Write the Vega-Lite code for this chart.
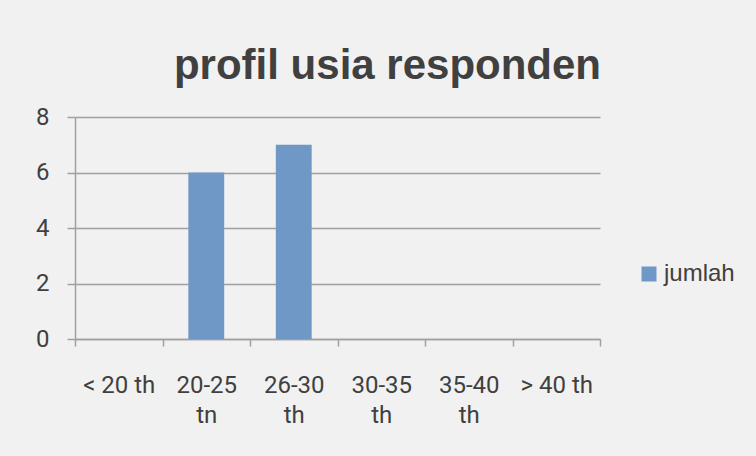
{
  "$schema": "https://vega.github.io/schema/vega-lite/v6.json",
  "width": 525,
  "height": 222,
  "autosize": "none",
  "padding": {"left": 75, "top": 117, "right": 156, "bottom": 117},
  "background": "#f1f1f1",
  "title": {
    "text": "profil usia responden",
    "font": "Liberation Sans",
    "fontWeight": "bold",
    "fontSize": 42,
    "color": "#404040",
    "anchor": "middle",
    "dx": 50,
    "offset": 17
  },
  "data": {
    "values": [
      {"usia": "< 20 th", "jumlah": 0},
      {"usia": "20-25 tn", "jumlah": 6},
      {"usia": "26-30 th", "jumlah": 7},
      {"usia": "30-35 th", "jumlah": 0},
      {"usia": "35-40 th", "jumlah": 0},
      {"usia": "> 40 th", "jumlah": 0}
    ]
  },
  "mark": {"type": "bar", "width": {"band": 0.41}},
  "encoding": {
    "x": {
      "field": "usia",
      "type": "nominal",
      "sort": null,
      "scale": {"padding": 0},
      "axis": {
        "title": null,
        "labelAngle": 0,
        "tickBand": "extent",
        "labelExpr": "indexof(datum.label, '-') > 0 ? split(datum.label, ' ') : datum.label",
        "labelFont": "Roboto",
        "labelFontSize": 24,
        "labelColor": "#404040",
        "labelLineHeight": 30,
        "labelPadding": 27,
        "tickSize": 7,
        "tickColor": "#a0a0a0",
        "tickWidth": 1.5,
        "domainColor": "#a0a0a0",
        "domainWidth": 1.5
      }
    },
    "y": {
      "field": "jumlah",
      "type": "quantitative",
      "scale": {"domain": [0, 8]},
      "axis": {
        "title": null,
        "values": [0, 2, 4, 6, 8],
        "labelFont": "Roboto",
        "labelFontSize": 24,
        "labelColor": "#404040",
        "labelPadding": 18,
        "tickSize": 8,
        "tickColor": "#a0a0a0",
        "tickWidth": 1.5,
        "domainColor": "#a0a0a0",
        "domainWidth": 1.5,
        "gridColor": "#a0a0a0",
        "gridWidth": 1.5
      }
    },
    "color": {
      "datum": "jumlah",
      "scale": {"range": ["#7098c6"]},
      "legend": {
        "title": null,
        "orient": "none",
        "legendX": 562,
        "legendY": 145,
        "symbolType": "square",
        "symbolSize": 225,
        "symbolStrokeWidth": 0,
        "labelFont": "Liberation Sans",
        "labelFontSize": 24,
        "labelColor": "#404040",
        "labelOffset": 3
      }
    }
  },
  "config": {"view": {"stroke": null}}
}
